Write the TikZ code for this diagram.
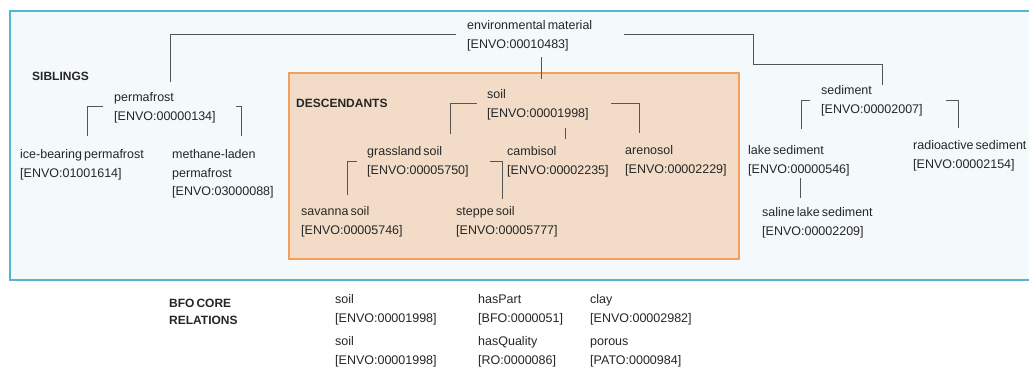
\documentclass[tikz,border=0pt]{standalone}
\usepackage{fontspec}
\setmainfont{Liberation Sans}[WordSpace=0.6]
\usetikzlibrary{positioning}

\definecolor{ink}{RGB}{38,38,38}
\definecolor{wire}{RGB}{85,85,85}
\definecolor{skyline}{RGB}{84,182,210}
\definecolor{skyfill}{RGB}{244,249,251}
\definecolor{peachline}{RGB}{245,160,90}
\definecolor{peachfill}{RGB}{242,220,199}

\newcommand\oid[1]{[#1]}

\begin{document}
\begin{tikzpicture}[
  x=1pt, y=-1pt,
  term/.style={align=left, inner sep=0pt, anchor=north west, text=ink,
    font=\fontsize{12.5}{18.3}\selectfont},
  head/.style={inner sep=0pt, anchor=west, text=ink, font=\fontsize{12}{17}\selectfont\bfseries},
  link/.style={draw=wire, line width=0.9pt}
]
  \useasboundingbox (0,0) rectangle (1029,369);
  \fill[white] (0,0) rectangle (1029,369);

  % frames
  \draw[skyline, line width=1.5pt, fill=skyfill] (10,11) rectangle (1045,280);
  \draw[peachline, line width=1.2pt, fill=peachfill] (289,73) rectangle (739,259);

  \node[head] (sib) at (32,76.5) {SIBLINGS};
  \node[head] (desc) at (296,103) {DESCENDANTS};

  % terms
  \node[term] (envmat) at (467,20.5) {environmental material\\ \oid{ENVO:00010483}};
  \node[term] (perm) at (114,92.5) {permafrost\\ \oid{ENVO:00000134}};
  \node[term] (ice) at (20,149.5) {ice-bearing permafrost\\ \oid{ENVO:01001614}};
  \node[term] (meth) at (172,149.5) {methane-laden\\permafrost\\ \oid{ENVO:03000088}};
  \node[term] (soil) at (487,89.5) {soil\\ \oid{ENVO:00001998}};
  \node[term] (grass) at (367,146.5) {grassland soil\\ \oid{ENVO:00005750}};
  \node[term] (camb) at (507,146.5) {cambisol\\ \oid{ENVO:00002235}};
  \node[term] (aren) at (625,145.5) {arenosol\\ \oid{ENVO:00002229}};
  \node[term] (sav) at (301,206.5) {savanna soil\\ \oid{ENVO:00005746}};
  \node[term] (steppe) at (456,206.5) {steppe soil\\ \oid{ENVO:00005777}};
  \node[term] (sed) at (821,85.5) {sediment\\ \oid{ENVO:00002007}};
  \node[term] (lake) at (748,145.5) {lake sediment\\ \oid{ENVO:00000546}};
  \node[term] (radio) at (913,140.5) {radioactive sediment\\ \oid{ENVO:00002154}};
  \node[term] (saline) at (762,207.5) {saline lake sediment\\ \oid{ENVO:00002209}};

  % tree links
  \draw[link] ([xshift=-11pt,yshift=1pt]envmat.west) -| ([xshift=56pt,yshift=10.5pt]perm.north west);
  \draw[link] ([xshift=32pt,yshift=1pt]envmat.east) -- ++(129,0) -- ++(0,30) -| ([xshift=61pt]sed.north west);
  \draw[link] ([xshift=54pt,yshift=-6.5pt]soil.north west |- envmat.south) -- ([xshift=54pt,yshift=10.5pt]soil.north west);

  \draw[link] ([xshift=-11pt,yshift=1pt]perm.west) -| ([xshift=67pt,yshift=13.5pt]ice.north west);
  \draw[link] ([xshift=20.5pt,yshift=1pt]perm.east) -| ([xshift=69pt,yshift=13.5pt]meth.north west);

  \draw[link] ([xshift=-10pt,yshift=1pt]soil.west) -| ([xshift=83pt,yshift=12.5pt]grass.north west);
  \draw[link] ([xshift=22.5pt,yshift=1pt]soil.east) -| ([xshift=14pt,yshift=12.5pt]aren.north west);
  \draw[link] ([xshift=58pt,yshift=-8.5pt]camb.north west |- soil.south) -- ([xshift=58pt,yshift=7.5pt]camb.north west);

  \draw[link] ([xshift=-10pt]grass.west) -| ([xshift=46pt,yshift=11.5pt]sav.north west);
  \draw[link] ([xshift=21.5pt]grass.east) -| ([xshift=46pt,yshift=7.5pt]steppe.north west);

  \draw[link] ([xshift=-11pt]sed.west) -| ([xshift=53pt,yshift=16.5pt]lake.north west);
  \draw[link] ([xshift=23.5pt]sed.east) -| ([xshift=45pt,yshift=12.5pt]radio.north west);
  \draw[link] ([xshift=38pt,yshift=-2.6pt]saline.north west |- lake.south) -- ([xshift=38pt,yshift=9.5pt]saline.north west);

  % relations
  \node[head, align=left, anchor=north west] (bfo) at (169,299) {BFO CORE\\RELATIONS};
  \node[term] (soilA) at (335,294.5) {soil\\ \oid{ENVO:00001998}};
  \node[term] (partA) at (478,294.5) {hasPart\\ \oid{BFO:0000051}};
  \node[term] (clayA) at (590,294.5) {clay\\ \oid{ENVO:00002982}};
  \node[term] (soilB) at (335,336.5) {soil\\ \oid{ENVO:00001998}};
  \node[term] (qualB) at (478,336.5) {hasQuality\\ \oid{RO:0000086}};
  \node[term] (porB) at (590,336.5) {\vphantom{l}porous\\ \oid{PATO:0000984}};
\end{tikzpicture}
\end{document}
